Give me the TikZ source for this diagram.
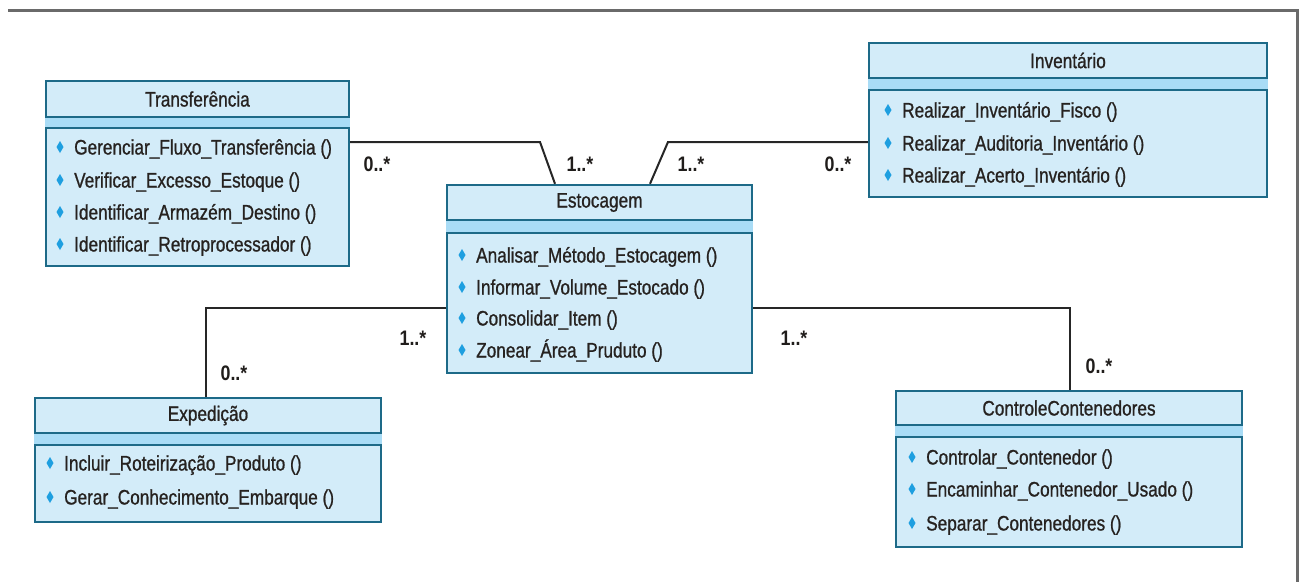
\documentclass[tikz,border=0pt]{standalone}
\usepackage{fontspec}
\usetikzlibrary{backgrounds}
\newfontfamily\umlfont[FakeStretch=0.82, FakeBold=0.9]{Liberation Sans}
\newfontfamily\multfont[FakeStretch=0.85]{Liberation Sans Bold}
\definecolor{boxfill}{HTML}{D3ECF9}
\definecolor{boxline}{HTML}{1D6A88}
\definecolor{stripfill}{HTML}{A9DCF6}
\definecolor{diafill}{HTML}{1E9FE0}
\definecolor{txt}{HTML}{262220}
\definecolor{framec}{HTML}{6A6A6A}

\tikzset{
  umlhead/.style={draw=boxline, fill=boxfill, line width=2.4pt, inner sep=0pt,
    font=\umlfont\fontsize{21}{24}\selectfont, text=txt},
  umlbody/.style={draw=boxline, fill=boxfill, line width=2.4pt, inner sep=0pt},
  strip/.style={fill=stripfill},
  mtxt/.style={inner sep=0pt, anchor=base west, font=\umlfont\fontsize{21}{24}\selectfont, text=txt},
  mult/.style={inner sep=0pt, font=\multfont\fontsize{21}{24}\selectfont, text=txt!85!black},
  assoc/.style={draw=black!85, line width=2pt},
  dia/.style={fill=diafill},
}

% one operation row: diamond bullet and its text
\newcommand\umlop[4]{%
  \fill[dia] ({#2-3.5},#3) -- (#2,{#3-6}) -- ({#2+3.5},#3) -- (#2,{#3+6}) -- cycle;
  \node[mtxt] (#1) at ({#2+14},{#3+7.5}) {#4};
}

\begin{document}
\begin{tikzpicture}[x=1pt, y=-1pt]
\useasboundingbox (0,0) rectangle (1305,582);

% page frame
\draw[framec, line width=3pt] (8,10) -- (1297,10) -- (1297,582);

% ---- Transferência
\node[umlhead, minimum width=303pt, minimum height=36pt] (th) at (197.5,99) {Transferência};
\node[umlbody, minimum width=303pt, minimum height=138pt] (tb) at (197.5,197) {};
\umlop{t1}{60}{147}{Gerenciar\_Fluxo\_Transferência ()}
\umlop{t2}{60}{180}{Verificar\_Excesso\_Estoque ()}
\umlop{t3}{60}{212}{Identificar\_Armazém\_Destino ()}
\umlop{t4}{60}{244}{Identificar\_Retroprocessador ()}

% ---- Estocagem
\node[umlhead, minimum width=305pt, minimum height=35pt] (eh) at (599.5,202.5) {Estocagem};
\node[umlbody, minimum width=305pt, minimum height=140pt] (eb) at (599.5,303) {};
\umlop{e1}{462}{255}{Analisar\_Método\_Estocagem ()}
\umlop{e2}{462}{287}{Informar\_Volume\_Estocado ()}
\umlop{e3}{462}{318}{Consolidar\_Item ()}
\umlop{e4}{462}{350}{Zonear\_Área\_Pruduto ()}

% ---- Inventário
\node[umlhead, minimum width=398pt, minimum height=35pt] (ih) at (1068,60.5) {Inventário};
\node[umlbody, minimum width=398pt, minimum height=107pt] (ib) at (1068,143.5) {};
\umlop{i1}{888}{110}{Realizar\_Inventário\_Fisco ()}
\umlop{i2}{888}{143}{Realizar\_Auditoria\_Inventário ()}
\umlop{i3}{888}{175}{Realizar\_Acerto\_Inventário ()}

% ---- Expedição
\node[umlhead, minimum width=346pt, minimum height=35pt] (xh) at (208,415.5) {Expedição};
\node[umlbody, minimum width=346pt, minimum height=77pt] (xb) at (208,483.5) {};
\umlop{x1}{50}{463}{Incluir\_Roteirização\_Produto ()}
\umlop{x2}{50}{497}{Gerar\_Conhecimento\_Embarque ()}

% ---- ControleContenedores
\node[umlhead, minimum width=346pt, minimum height=34pt] (ch) at (1069,408) {ControleContenedores};
\node[umlbody, minimum width=346pt, minimum height=110pt] (cb) at (1069,492) {};
\umlop{c1}{912}{457}{Controlar\_Contenedor ()}
\umlop{c2}{912}{489}{Encaminhar\_Contenedor\_Usado ()}
\umlop{c3}{912}{523}{Separar\_Contenedores ()}

% strips between class name and operations
\begin{scope}[on background layer]
  \fill[strip] (th.south west) rectangle (tb.north east);
  \fill[strip] (eh.south west) rectangle (eb.north east);
  \fill[strip] (ih.south west) rectangle (ib.north east);
  \fill[strip] (xh.south west) rectangle (xb.north east);
  \fill[strip] (ch.south west) rectangle (cb.north east);
\end{scope}

% bend points of the associations
\coordinate (b1) at (540,142);
\coordinate (b2) at (668,142);
\coordinate (b3) at (206,308);
\coordinate (b4) at (1070,308);

\draw[assoc] (tb.east |- b1) -- (b1) -- ([xshift=-44.5pt]eh.north);
\draw[assoc] (ib.west |- b2) -- (b2) -- ([xshift=50.5pt]eh.north);
\draw[assoc] (eb.west |- b3) -- (b3) -- (xh.north -| b3);
\draw[assoc] (eb.east |- b4) -- (b4) -- (ch.north -| b4);

% multiplicities
\node[mult] (m1) at (377,164) {0..*};
\node[mult] (m2) at (580,164) {1..*};
\node[mult] (m3) at (691,164) {1..*};
\node[mult] (m4) at (838,164) {0..*};
\node[mult] (m5) at (413,338) {1..*};
\node[mult] (m6) at (234,373) {0..*};
\node[mult] (m7) at (794,338) {1..*};
\node[mult] (m8) at (1099,366) {0..*};
\end{tikzpicture}
\end{document}
